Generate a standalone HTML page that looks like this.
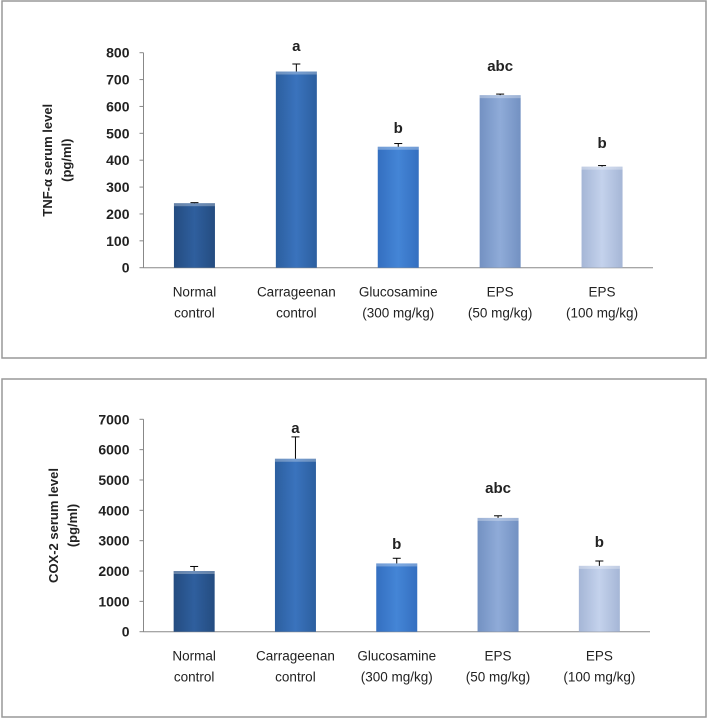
<!DOCTYPE html>
<html><head><meta charset="utf-8"><style>
body{margin:0;background:#fff;width:708px;height:719px;overflow:hidden}
svg text{font-family:"Liberation Sans",sans-serif;fill:#222}
</style></head><body>
<svg width="708" height="719" xmlns="http://www.w3.org/2000/svg">
<defs>
<linearGradient id="g0" x1="0" x2="1"><stop offset="0" stop-color="#244c80"/><stop offset="0.5" stop-color="#2f5f9e"/><stop offset="1" stop-color="#244c80"/></linearGradient>
<linearGradient id="g1" x1="0" x2="1"><stop offset="0" stop-color="#2c5f9f"/><stop offset="0.5" stop-color="#3a73bd"/><stop offset="1" stop-color="#2c5f9f"/></linearGradient>
<linearGradient id="g2" x1="0" x2="1"><stop offset="0" stop-color="#346fc0"/><stop offset="0.5" stop-color="#4485d6"/><stop offset="1" stop-color="#346fc0"/></linearGradient>
<linearGradient id="g3" x1="0" x2="1"><stop offset="0" stop-color="#7391c2"/><stop offset="0.5" stop-color="#8fabd8"/><stop offset="1" stop-color="#7391c2"/></linearGradient>
<linearGradient id="g4" x1="0" x2="1"><stop offset="0" stop-color="#a5b6d6"/><stop offset="0.5" stop-color="#c4d2ec"/><stop offset="1" stop-color="#a5b6d6"/></linearGradient>
</defs>
<rect x="2" y="1" width="704" height="357" fill="none" stroke="#999" stroke-width="1.5"/>
<rect x="2" y="379" width="704" height="338" fill="none" stroke="#999" stroke-width="1.5"/>
<g id="c1"></g>
<g id="c2"></g>
</svg>
<script>
const categories1=["Normal|control","Carrageenan|control","Glucosamine|(300 mg/kg)","EPS|(50 mg/kg)","EPS|(100 mg/kg)"];
const tnfValues=[240,730,450,642,376];
const tnfErrors=[2,28,12,4,4];
const tnfLetters=["","a","b","abc","b"];
const tnfTicks=[0,100,200,300,400,500,600,700,800];
const coxValues=[2000,5700,2250,3750,2170];
const coxErrors=[150,720,170,70,160];
const coxLetters=["","a","b","abc","b"];
const coxTicks=[0,1000,2000,3000,4000,5000,6000,7000];
const NS="http://www.w3.org/2000/svg";
function mk(p,t,a,txt){const e=document.createElementNS(NS,t);for(const k in a)e.setAttribute(k,a[k]);if(txt!==undefined)e.textContent=txt;p.appendChild(e);return e;}
function draw(gid,cfg){
 const g=document.getElementById(gid);
 const {x0,x1,yTop,yBot,max,vals,errs,letters,ticks,title,tx,letterY}=cfg;
 const y=v=>yBot-(v/max)*(yBot-yTop);
 const step=(x1-x0)/vals.length;
 const cx=i=>x0+step*(i+0.5);
 const ax=mk(g,'line',{x1:x0,y1:yTop,x2:x0,y2:yBot,stroke:'#888','stroke-width':1});
 
 const bx=mk(g,'line',{x1:x0,y1:yBot,x2:x1,y2:yBot,stroke:'#888','stroke-width':1});
 
 ticks.forEach(t=>{
  mk(g,'line',{x1:x0-4,y1:y(t),x2:x0,y2:y(t),stroke:'#888'});
  const l=mk(g,'text',{x:x0-14,y:y(t)+5,'text-anchor':'end','font-size':14,'font-weight':'bold'},String(t));
  
 });
 vals.forEach((v,i)=>{
  const w=41,c=cx(i);
  const r=mk(g,'rect',{x:c-w/2,y:y(v),width:w,height:yBot-y(v),fill:'url(#g'+i+')'});
  
  mk(g,'rect',{x:c-w/2,y:y(v),width:w,height:3,fill:'#fff',opacity:0.3});
  const e=errs[i];
  mk(g,'line',{x1:c,y1:y(v),x2:c,y2:y(v+e),stroke:'#000'});
  mk(g,'line',{x1:c-4,y1:y(v+e),x2:c+4,y2:y(v+e),stroke:'#000'});
  if(letters[i]){const lt=mk(g,'text',{x:c,y:letterY[i],'text-anchor':'middle','font-size':15,'font-weight':'bold'},letters[i]);
   }
  const parts=categories1[i].split('|');
  const cl=mk(g,'text',{x:c,y:yBot+29,'text-anchor':'middle','font-size':13.5},'');
  
  mk(cl,'tspan',{x:c},parts[0]);mk(cl,'tspan',{x:c,dy:21},parts[1]);
 });
 const ty=(yTop+yBot)/2;
 const tt=mk(g,'text',{transform:`translate(${tx},${ty}) rotate(-90)`,'text-anchor':'middle','font-size':13,'font-weight':'bold'},'');
 
 mk(tt,'tspan',{x:0,y:0},title[0]);mk(tt,'tspan',{x:0,dy:19},title[1]);
}
draw('c1',{x0:143.5,x1:653,yTop:52.7,yBot:267.7,max:800,vals:tnfValues,errs:tnfErrors,letters:tnfLetters,ticks:tnfTicks,title:["TNF-α serum level","(pg/ml)"],tx:52,letterY:[0,51,133,71,148]});
draw('c2',{x0:143.5,x1:650,yTop:419.3,yBot:631.7,max:7000,vals:coxValues,errs:coxErrors,letters:coxLetters,ticks:coxTicks,title:["COX-2 serum level","(pg/ml)"],tx:58,letterY:[0,433,549,493,547]});
</script>
</body></html>
